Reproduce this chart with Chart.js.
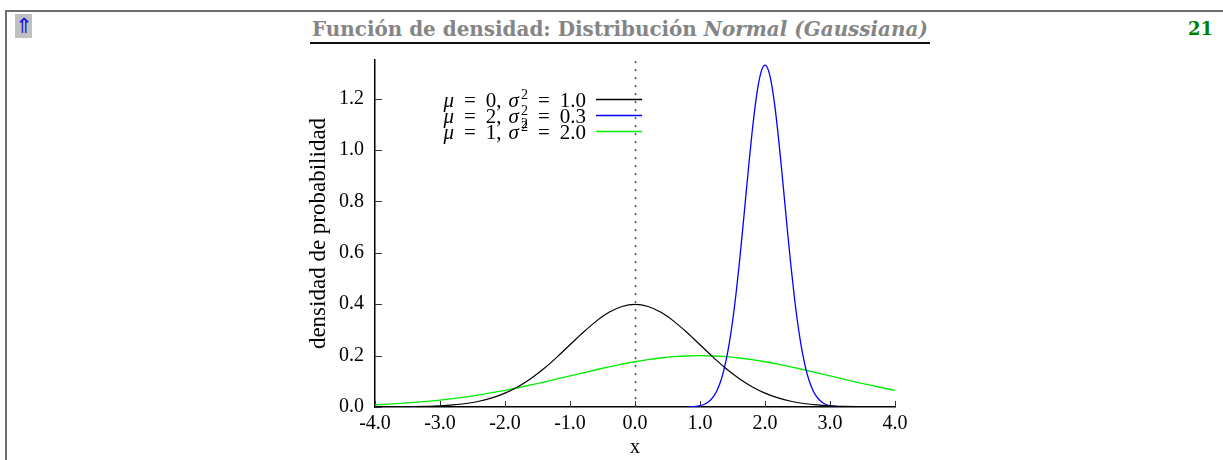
<!DOCTYPE html>
<html>
<head>
<meta charset="utf-8">
<title>Función de densidad: Distribución Normal (Gaussiana)</title>
<script src="https://cdn.jsdelivr.net/npm/chart.js@4.4.1/dist/chart.umd.min.js"></script>
<style>
  html, body { margin: 0; padding: 0; background: #fff; width: 1223px; height: 460px; overflow: hidden; }
  #frame { position: absolute; left: 5px; top: 10px; width: 1216px; height: 460px;
           border-top: 2px solid #6e6e6e; border-left: 2px solid #6e6e6e; }
  #up { position: absolute; left: 15px; top: 14px; width: 17px; height: 24px; background: #c0c0c0;
        color: #1010e0; font: 21px "DejaVu Sans"; line-height: 24px; text-align: center; }
  #title { position: absolute; left: 312px; top: 20px; white-space: nowrap; color: #858585;
           font-family: "DejaVu Serif"; font-weight: bold; font-size: 18px; line-height: 18px; }
  #title i { font-style: italic; }
  #rule { position: absolute; left: 310px; top: 42px; width: 620px; height: 2px; background: #111; }
  #page { position: absolute; right: 10px; top: 20px; color: #008000;
          font-family: "DejaVu Serif"; font-weight: bold; font-size: 18px; line-height: 18px; }
  #chart { position: absolute; left: 0; top: 0; }
</style>
</head>
<body>
<div id="frame"></div>
<div id="up">⇑</div>
<div id="title">Función de densidad: Distribución <i>Normal (Gaussiana)</i></div>
<div id="rule"></div>
<div id="page">21</div>
<canvas id="chart" width="1223" height="460"></canvas>
<script>
// x positions of the read-off points
const WIDE_X = [-4.0, -3.8, -3.6, -3.4, -3.2, -3.0, -2.8, -2.6, -2.4, -2.2, -2.0, -1.8, -1.6, -1.4, -1.2, -1.0,
  -0.8, -0.6, -0.4, -0.2, 0.0, 0.2, 0.4, 0.6, 0.8, 1.0, 1.2, 1.4, 1.6, 1.8, 2.0, 2.2, 2.4, 2.6, 2.8, 3.0,
  3.2, 3.4, 3.6, 3.8, 4.0];
const NARROW_X = [0.8, 0.9, 1.0, 1.05, 1.1, 1.15, 1.2, 1.25, 1.3, 1.35, 1.4, 1.45, 1.5, 1.55, 1.6, 1.65, 1.7,
  1.75, 1.8, 1.85, 1.9, 1.95, 2.0, 2.05, 2.1, 2.15, 2.2, 2.25, 2.3, 2.35, 2.4, 2.45, 2.5, 2.55, 2.6, 2.65,
  2.7, 2.75, 2.8, 2.85, 2.9, 2.95, 3.0, 3.1, 3.2];

// mu = 0, sigma = 1 (black)
const BLACK_Y = [0.0001, 0.0003, 0.0006, 0.0012, 0.0024, 0.0044, 0.0079, 0.0136, 0.0224, 0.0355, 0.0540,
  0.0790, 0.1109, 0.1497, 0.1942, 0.2420, 0.2897, 0.3332, 0.3683, 0.3910, 0.3989, 0.3910, 0.3683, 0.3332,
  0.2897, 0.2420, 0.1942, 0.1497, 0.1109, 0.0790, 0.0540, 0.0355, 0.0224, 0.0136, 0.0079, 0.0044, 0.0024,
  0.0012, 0.0006, 0.0003, 0.0001];
// mu = 2, sigma = 0.3 (blue)
const BLUE_Y = [0.0004, 0.0016, 0.0051, 0.0088, 0.0148, 0.0240, 0.0380, 0.0584, 0.0874, 0.1272, 0.1800,
  0.2476, 0.3316, 0.4318, 0.5467, 0.6733, 0.8066, 0.9397, 1.0648, 1.1735, 1.2580, 1.3115, 1.3298, 1.3115,
  1.2580, 1.1735, 1.0648, 0.9397, 0.8066, 0.6733, 0.5467, 0.4318, 0.3316, 0.2476, 0.1800, 0.1272, 0.0874,
  0.0584, 0.0380, 0.0240, 0.0148, 0.0088, 0.0051, 0.0016, 0.0004];
// mu = 1, sigma = 2 (green)
const GREEN_Y = [0.0088, 0.0112, 0.0142, 0.0177, 0.0220, 0.0270, 0.0328, 0.0395, 0.0470, 0.0555, 0.0648,
  0.0749, 0.0857, 0.0971, 0.1090, 0.1210, 0.1331, 0.1449, 0.1562, 0.1667, 0.1761, 0.1842, 0.1907, 0.1956,
  0.1985, 0.1995, 0.1985, 0.1956, 0.1907, 0.1842, 0.1761, 0.1667, 0.1562, 0.1449, 0.1331, 0.1210, 0.1090,
  0.0971, 0.0857, 0.0749, 0.0648];

// legend pieces
const LEGEND_MU = ["0", "2", "1"];
const LEGEND_SUB = ["", "2", ""];
const LEGEND_VAR = ["1.0", "0.3", "2.0"];

const SERIF = '"Liberation Serif"';

// make the header title span the rule width
(function fitTitle() {
  const t = document.getElementById("title");
  const w = t.getBoundingClientRect().width;
  t.style.fontSize = (18 * 616 / w).toFixed(2) + "px";
})();

function pts(xs, ys) {
  return xs.map((x, i) => ({ x: x, y: ys[i] }));
}

// inward tick marks and the dotted line at x = 0
const axisMarks = {
  id: "axisMarks",
  beforeDatasetsDraw(chart) {
    const { ctx, chartArea: a, scales: { x, y } } = chart;
    ctx.save();
    const x0 = Math.round(x.getPixelForValue(0)) + 0.5;
    ctx.strokeStyle = "#555";
    ctx.lineWidth = 1.5;
    ctx.setLineDash([2, 6]);
    ctx.beginPath();
    ctx.moveTo(x0, a.bottom);
    ctx.lineTo(x0, a.top);
    ctx.stroke();
    ctx.setLineDash([]);
    ctx.strokeStyle = "#333";
    ctx.lineWidth = 1;
    ctx.beginPath();
    x.ticks.forEach(t => {
      const px = Math.round(x.getPixelForValue(t.value)) + 0.5;
      ctx.moveTo(px, a.bottom);
      ctx.lineTo(px, a.bottom - 6);
    });
    y.ticks.forEach(t => {
      const py = Math.round(y.getPixelForValue(t.value)) + 0.5;
      ctx.moveTo(a.left, py);
      ctx.lineTo(a.left + 7, py);
    });
    ctx.stroke();
    ctx.restore();
  }
};

// legend with math formatting, text right-aligned before the sample line
const mathLegend = {
  id: "mathLegend",
  afterDraw(chart) {
    const { ctx, chartArea: a } = chart;
    const RM = "21px " + SERIF, IT = "italic 21px " + SERIF, SM = "14px " + SERIF;
    const REL = 10, THIN = 7;
    ctx.save();
    ctx.fillStyle = "#000";
    ctx.textBaseline = "alphabetic";
    ctx.textAlign = "left";
    chart.data.datasets.forEach((ds, i) => {
      const yc = a.top + 39 + 16 * i;
      const base = yc + 8;
      const runs = [
        { t: "μ", f: IT },
        { t: "=", f: RM, pl: REL, pr: REL },
        { t: LEGEND_MU[i] + ",", f: RM, pr: THIN },
        { t: "σ", f: IT },
        { t: "2", f: SM, dy: -8, sub: LEGEND_SUB[i] },
        { t: "=", f: RM, pl: REL, pr: REL },
        { t: LEGEND_VAR[i], f: RM }
      ];
      let total = 0;
      runs.forEach(r => {
        ctx.font = r.f;
        let w = ctx.measureText(r.t).width;
        if (r.sub) w = Math.max(w, ctx.measureText(r.sub).width);
        r.w = w;
        total += (r.pl || 0) + w + (r.pr || 0) + (r.dy ? 2 : 0);
      });
      let cx = a.left + 211 - total;
      runs.forEach(r => {
        ctx.font = r.f;
        cx += (r.pl || 0) + (r.dy ? 2 : 0);
        ctx.fillText(r.t, cx, base + (r.dy || 0));
        if (r.sub) ctx.fillText(r.sub, cx, base + 5);
        cx += r.w + (r.pr || 0);
      });
      ctx.strokeStyle = ds.borderColor;
      ctx.lineWidth = 1.3;
      ctx.beginPath();
      ctx.moveTo(a.left + 221, yc + 0.5);
      ctx.lineTo(a.left + 267, yc + 0.5);
      ctx.stroke();
    });
    ctx.restore();
  }
};

function legendLabel(i) {
  return "μ = " + LEGEND_MU[i] + ", σ" + (LEGEND_SUB[i] ? "₂" : "") + "² = " + LEGEND_VAR[i];
}

const tickFont = { family: "Liberation Serif", size: 20 };

new Chart(document.getElementById("chart").getContext("2d"), {
  type: "line",
  data: {
    datasets: [
      { label: legendLabel(0), data: pts(WIDE_X, BLACK_Y), borderColor: "#000000", borderWidth: 1.2 },
      { label: legendLabel(1), data: pts(NARROW_X, BLUE_Y), borderColor: "#0000ff", borderWidth: 1.3 },
      { label: legendLabel(2), data: pts(WIDE_X, GREEN_Y), borderColor: "#00ee00", borderWidth: 1.3 }
    ]
  },
  options: {
    responsive: false,
    animation: false,
    devicePixelRatio: 1,
    elements: { point: { radius: 0 }, line: { cubicInterpolationMode: "monotone", fill: false } },
    layout: { padding: { left: 295, right: 328, top: 60, bottom: 0 } },
    plugins: { legend: { display: false }, tooltip: { enabled: false } },
    scales: {
      x: {
        type: "linear",
        min: -4,
        max: 4,
        grid: { display: false, drawTicks: false },
        border: { display: true, color: "#000", width: 1.5 },
        ticks: { stepSize: 1, padding: 5, color: "#000", font: tickFont, maxRotation: 0, autoSkip: false,
                 callback: v => v.toFixed(1) },
        title: { display: true, text: "x", color: "#000", font: tickFont, padding: { top: 0, bottom: 0 } },
        afterFit(scale) { scale.height = 53; }
      },
      y: {
        type: "linear",
        min: 0,
        max: 1.35,
        grid: { display: false, drawTicks: false },
        border: { display: true, color: "#000", width: 1.5 },
        ticks: { stepSize: 0.2, includeBounds: false, padding: 11, color: "#000", font: tickFont,
                 callback: v => v.toFixed(1) },
        title: { display: true, text: "densidad de probabilidad", color: "#000",
                 font: { family: "Liberation Serif", size: 23 }, padding: { top: 10, bottom: 0 } },
        afterFit(scale) { scale.width = 80; }
      }
    }
  },
  plugins: [axisMarks, mathLegend]
});
</script>
</body>
</html>
